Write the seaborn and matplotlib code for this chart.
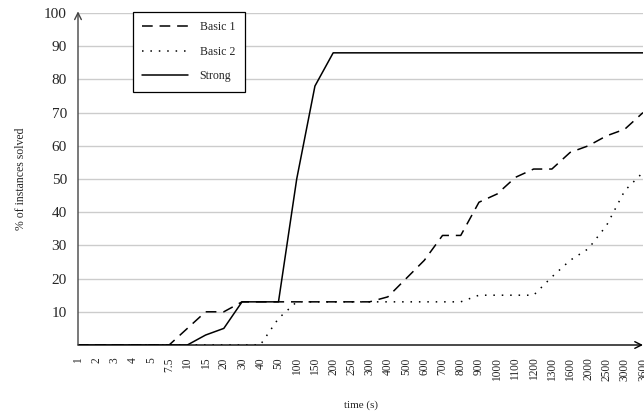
import numpy as np
import pandas as pd
import seaborn as sns
import matplotlib.pyplot as plt

# time checkpoints (categorical axis) and % of instances solved
TIMES = ['1', '2', '3', '4', '5', '7.5', '10', '15', '20', '30', '40', '50',
         '100', '150', '200', '250', '300', '400', '500', '600', '700', '800',
         '900', '1000', '1100', '1200', '1300', '1600', '2000', '2500', '3000', '3600']

BASIC_1 = [0, 0, 0, 0, 0, 0, 5, 10, 10, 13, 13, 13, 13, 13, 13, 13, 13,
           14.5, 20, 25.5, 33, 33, 43, 45.5, 50.5, 53, 53, 58, 60, 63, 65, 70]
BASIC_2 = [0, 0, 0, 0, 0, 0, 0, 0, 0, 0, 0, 8, 13, 13, 13, 13, 13,
           13, 13, 13, 13, 13, 15, 15, 15, 15, 20.5, 25.5, 29, 36, 46.5, 52]
STRONG = [0, 0, 0, 0, 0, 0, 0, 3, 5, 13, 13, 13, 50, 78, 88, 88, 88,
          88, 88, 88, 88, 88, 88, 88, 88, 88, 88, 88, 88, 88, 88, 88]

SERIES = ['Basic 1', 'Basic 2', 'Strong']

sns.set_theme(style='white')
plt.rcParams['font.family'] = ['Liberation Serif', 'DejaVu Serif']

pos = np.arange(len(TIMES))
df = pd.DataFrame({
    'pos': np.concatenate([pos, pos, pos]),
    'solved': BASIC_1 + BASIC_2 + STRONG,
    'series': np.repeat(SERIES, len(TIMES)),
})

fig = plt.figure(figsize=(6.44, 4.19), dpi=100)
ax = fig.add_axes([78 / 644, 74 / 419, 565 / 644, 332 / 419])

sns.lineplot(
    data=df, x='pos', y='solved', hue='series', style='series',
    palette={s: 'black' for s in SERIES},
    dashes={'Basic 1': (7, 4.5), 'Basic 2': (1, 4.5), 'Strong': ''},
    linewidth=1.1, ax=ax, legend=True, zorder=3,
)

ax.set_xlim(0, len(TIMES) - 1)
ax.set_ylim(0, 100)
ax.set_xticks(pos)
ax.set_xticklabels(TIMES, rotation=90, fontsize=8.3)
ax.set_yticks(np.arange(10, 101, 10))
ax.tick_params(axis='y', labelsize=11, direction='out', length=5,
               color='#999999', width=0.8, pad=3)
ax.tick_params(axis='x', direction='inout', length=8, color='#888888',
               width=0.8, pad=5)
ax.yaxis.grid(True, color='#cccccc', linewidth=1.0)
ax.xaxis.grid(False)

for side in ['top', 'right', 'left', 'bottom']:
    ax.spines[side].set_visible(False)

# axis arrows
ax.annotate('', xy=(1.0, 0), xytext=(0, 0), xycoords='axes fraction',
            arrowprops=dict(arrowstyle='->', color='black', lw=1.0,
                            shrinkA=0, shrinkB=0), annotation_clip=False)
ax.annotate('', xy=(0, 1.005), xytext=(0, 0), xycoords='axes fraction',
            arrowprops=dict(arrowstyle='->', color='#444444', lw=1.0,
                            shrinkA=0, shrinkB=0), annotation_clip=False)

ax.set_xlabel('time (s)', fontsize=8, labelpad=14)
ax.set_ylabel('% of instances solved', fontsize=8.5, labelpad=12)

leg = ax.legend(loc='upper left', bbox_to_anchor=(0.097, 1.004),
                borderaxespad=0, fontsize=8.6, frameon=True, fancybox=False,
                edgecolor='black', framealpha=1, handlelength=3.8,
                labelspacing=1.05, borderpad=0.8, handletextpad=1.0,
                title=None)
leg.get_frame().set_linewidth(0.9)

fig.savefig('out.png', dpi=100)
